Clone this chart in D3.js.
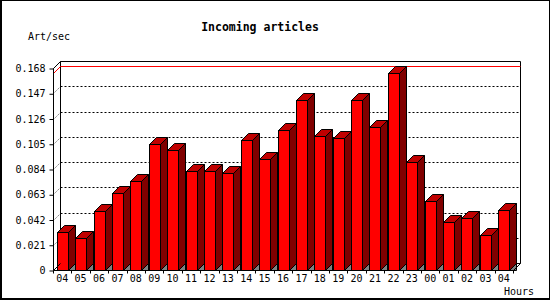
<!DOCTYPE html>
<html>
<head>
<meta charset="utf-8">
<script src="https://cdn.jsdelivr.net/npm/d3@7"></script>
<style>
  body { margin: 0; background: #fff; }
  svg { display: block; }
  text { font-family: "DejaVu Sans Mono", monospace; fill: #000; }
</style>
</head>
<body>
<div id="chart"></div>
<script>
// hours of the day, oldest first
const hours = ["04","05","06","07","08","09","10","11","12","13","14","15","16","17","18","19","20","21","22","23","00","01","02","03","04"]
// incoming articles per second
const artPerSec = [0.0313,0.0265,0.0489,0.0638,0.0744,0.1045,0.1000,0.0821,0.0821,0.0810,0.1083,0.0926,0.1166,0.1415,0.1117,0.1100,0.1415,0.1191,0.1639,0.0901,0.0578,0.0398,0.0429,0.0288,0.0495]
const yTicks = [0, 0.021, 0.042, 0.063, 0.084, 0.105, 0.126, 0.147, 0.168]

const width = 550
const height = 300
const depth = 7
const plotLeft = 53, plotRight = 513, plotBottom = 270, plotTop = 68

const svg = d3.select("#chart").append("svg")
    .attr("width", width)
    .attr("height", height)

// frame round the picture
svg.append("rect").attr("x", 0).attr("y", 0).attr("width", width).attr("height", height).attr("fill", "#fff")
svg.append("rect").attr("x", 0.5).attr("y", 0.5).attr("width", width - 1).attr("height", height - 1)
    .attr("fill", "none").attr("stroke", "#000")
svg.append("rect").attr("x", 1).attr("y", 298).attr("width", 549).attr("height", 1).attr("fill", "#000")
svg.append("rect").attr("x", 1).attr("y", 0).attr("width", 1).attr("height", 300).attr("fill", "#000")

const x = d3.scaleBand()
    .domain(d3.range(hours.length))
    .range([plotLeft, plotRight])

const y = d3.scaleLinear()
    .domain([0, 0.168])
    .range([plotBottom, plotTop])

const px = v => Math.round(v) + 0.5

const line = (x1, y1, x2, y2, color, dash) => {
    const l = svg.append("line")
        .attr("x1", px(x1)).attr("y1", px(y1))
        .attr("x2", px(x2)).attr("y2", px(y2))
        .attr("stroke", color || "#000")
        .attr("stroke-width", 1)
    if (dash) l.attr("stroke-dasharray", dash)
    return l
}

// back wall
line(plotLeft + depth, plotTop - depth, plotRight + depth, plotTop - depth)
line(plotLeft + depth, plotTop - depth, plotLeft + depth, plotBottom - depth)
line(plotRight + depth, plotTop - depth, plotRight + depth, plotBottom - depth)
line(plotLeft + depth, plotBottom - depth, plotRight + depth, plotBottom - depth)

// dotted grid on the back wall, with its slant to the front axis
yTicks.forEach(v => {
    if (v > 0 && v < 0.168) {
        line(plotLeft + depth, y(v) - depth, plotRight + depth, y(v) - depth, "#000", "2,2")
    }
    if (v > 0) line(plotLeft, y(v), plotLeft + depth, y(v) - depth, "#000", "1,2")
})

// max value line
const maxVal = d3.max(artPerSec)
line(plotLeft + depth, y(maxVal) - depth, plotRight + depth, y(maxVal) - depth, "#ff0000")
line(plotLeft, y(maxVal), plotLeft + depth, y(maxVal) - depth, "#ff0000")

const bw = 11
artPerSec.forEach((v, i) => {
    const x0 = Math.round(x(i) + x.bandwidth() / 2 - bw / 2) + 0.5
    const x1 = x0 + bw
    const yv = Math.round(y(v)) + 0.5
    const yb = plotBottom + 0.5
    // floor shadow under the side
    svg.append("path")
        .attr("d", `M${x1},${yb}L${x1 + depth},${yb - depth}L${x1 + depth},${yb}Z`)
        .attr("fill", "#808080").attr("stroke", "#000").attr("stroke-width", 1)
    // side
    svg.append("path")
        .attr("d", `M${x1},${yv}L${x1 + depth},${yv - depth}L${x1 + depth},${yb - depth}L${x1},${yb}Z`)
        .attr("fill", "#800000").attr("stroke", "#000").attr("stroke-width", 1)
    // top
    svg.append("path")
        .attr("d", `M${x0},${yv}L${x0 + depth},${yv - depth}L${x1 + depth},${yv - depth}L${x1},${yv}Z`)
        .attr("fill", "#c00000").attr("stroke", "#000").attr("stroke-width", 1)
    // front
    svg.append("rect")
        .attr("x", x0).attr("y", yv)
        .attr("width", bw).attr("height", yb - yv)
        .attr("fill", "#ff0000").attr("stroke", "#000").attr("stroke-width", 1)
})

// front axes and slants
line(plotLeft, plotTop, plotLeft, plotBottom)
line(plotLeft, plotBottom, plotRight, plotBottom)
line(plotLeft, plotTop, plotLeft + depth, plotTop - depth)
line(plotLeft, plotBottom, plotLeft + depth, plotBottom - depth)
line(plotRight, plotBottom, plotRight + depth, plotBottom - depth)

// y axis
const yAxis = svg.append("g")
    .attr("transform", `translate(${plotLeft + 0.5},0.5)`)
    .call(d3.axisLeft(y)
        .tickValues(yTicks)
        .tickSize(4)
        .tickSizeOuter(0)
        .tickPadding(4)
        .tickFormat(d => d === 0 ? "0" : d3.format(".3f")(d)))
yAxis.select(".domain").remove()
yAxis.selectAll("text").attr("font-size", 10).attr("font-family", "DejaVu Sans Mono").attr("fill", "#000")
yAxis.selectAll("line").attr("stroke", "#000")

// x ticks at the slot borders
d3.range(hours.length + 1).forEach(i => {
    const xi = i < hours.length ? x(i) : plotRight
    line(xi, plotBottom, xi, plotBottom + 3)
})

const xAxis = svg.append("g")
    .attr("transform", `translate(0,${plotBottom})`)
    .call(d3.axisBottom(x).tickSize(0).tickPadding(5).tickFormat(i => hours[i]))
xAxis.select(".domain").remove()
xAxis.selectAll("text").attr("font-size", 10).attr("font-family", "DejaVu Sans Mono").attr("fill", "#000")

// texts
svg.append("text").attr("x", 260).attr("y", 31).attr("text-anchor", "middle")
    .attr("font-size", 11.5).attr("font-weight", "bold").text("Incoming articles")
svg.append("text").attr("x", 28).attr("y", 40).attr("font-size", 10).text("Art/sec")
svg.append("text").attr("x", 534).attr("y", 295).attr("text-anchor", "end").attr("font-size", 10).text("Hours")
</script>
</body>
</html>
